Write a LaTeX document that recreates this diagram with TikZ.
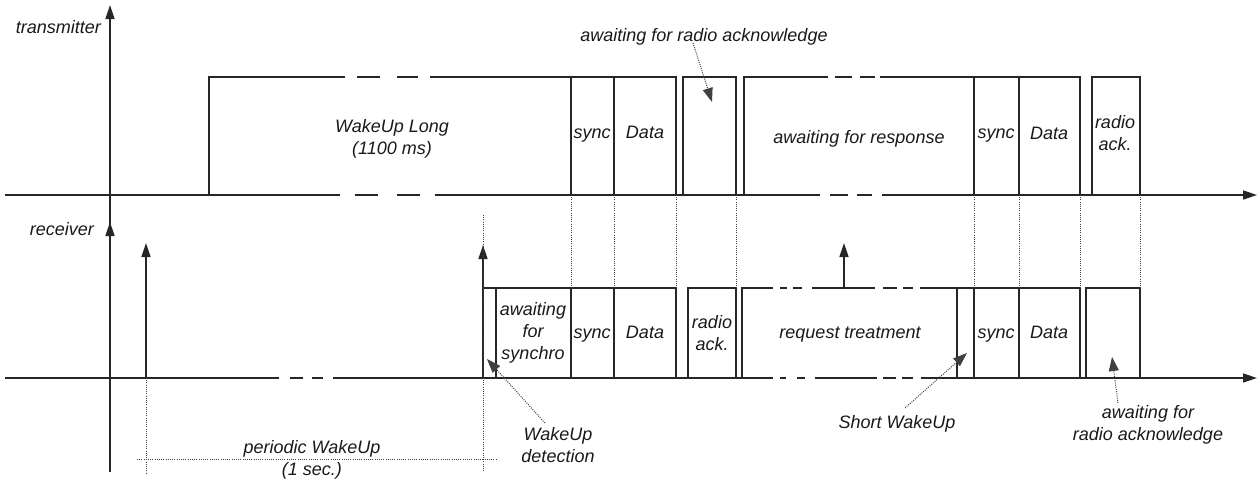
\documentclass[tikz,border=0pt]{standalone}
\usepackage{fontspec}
\setmainfont{Liberation Sans}
\usetikzlibrary{arrows.meta}
\begin{document}
\begin{tikzpicture}[x=1pt,y=-1pt,
  ln/.style={line width=1.5pt, draw=black!85, line cap=butt},
  dt/.style={line width=1pt, draw=black!75, dash pattern=on 1pt off 1.2pt},
  tipa/.style={-{Triangle[length=14pt,width=9pt]}},
  lead/.style={dt, -{Triangle[length=14pt,width=10pt]}},
  lbl/.style={font=\fontsize{18}{22}\selectfont\itshape, inner sep=0pt, anchor=base, text=black!90, align=center}]
\useasboundingbox (0,0) rectangle (1260,482);

% ---------- axes ----------
\draw[ln,tipa] (110,472) -- (110,222);
\draw[ln,tipa] (110,232) -- (110,5);
% transmitter axis
\draw[ln] (5,195) -- (340,195) (355,195) -- (378,195) (397,195) -- (420,195) (435,195) -- (820,195)
          (830,195) -- (848,195) (857,195) -- (872,195);
\draw[ln,tipa] (882,195) -- (1257,195);
% receiver axis
\draw[ln] (5,378) -- (279,378) (290,378) -- (303,378) (312,378) -- (323,378) (333,378) -- (773,378)
          (780,378) -- (786,378) (797,378) -- (805,378) (815,378) -- (877,378)
          (883,378) -- (896,378) (902,378) -- (913,378);
\draw[ln,tipa] (921,378) -- (1257,378);

% ---------- transmitter boxes ----------
\draw[ln] (209,195) -- (209,77) -- (345,77) (357,77) -- (380,77) (397,77) -- (418,77) (430,77) -- (571,77);
\draw[ln] (571,195) -- (571,77) -- (676,77) -- (676,195) (614,77) -- (614,195);
\draw[ln] (683,195) -- (683,77) -- (736,77) -- (736,195);
\draw[ln] (744,195) -- (744,77) -- (828,77) (835,77) -- (852,77) (860,77) -- (875,77) (880,77) -- (974,77);
\draw[ln] (974,195) -- (974,77) -- (1080,77) -- (1080,195) (1019,77) -- (1019,195);
\draw[ln] (1092,195) -- (1092,77) -- (1140,77) -- (1140,195);

% ---------- receiver boxes ----------
\draw[ln] (483,288) -- (676,288) -- (676,378) (496,288) -- (496,378) (571,288) -- (571,378) (614,288) -- (614,378);
\draw[ln] (688,378) -- (688,288) -- (736,288) -- (736,378);
\draw[ln] (742,378) -- (742,288) -- (773,288) (780,288) -- (787,288) (793,288) -- (802,288) (812,288) -- (875,288)
          (883,288) -- (897,288) (903,288) -- (913,288) (920,288) -- (1080,288) -- (1080,378)
          (957,288) -- (957,378) (974,288) -- (974,378) (1019,288) -- (1019,378);
\draw[ln] (1086,378) -- (1086,288) -- (1140,288) -- (1140,378);

% wake-up arrows
\draw[ln,tipa] (146,378) -- (146,243);
\draw[ln,tipa] (483,378) -- (483,245);
\draw[ln,tipa] (844,288) -- (844,243);

% ---------- dotted guides ----------
\draw[dt] (146,378) -- (146,473);
\draw[dt] (483,215) -- (483,472);
\draw[dt] (137,459) -- (497,459);
\foreach \xx in {571,614,676,736,974,1019,1080,1140} \draw[dt] (\xx,195) -- (\xx,288);

% ---------- labels ----------
\node[lbl,anchor=base east] (tx) at (101,33) {transmitter};
\node[lbl,anchor=base east] (rx) at (94,235) {receiver};
\node[lbl] (wul) at (392,154) {WakeUp Long\\(1100 ms)};
\node[lbl] (s1) at (592,138) {sync};
\node[lbl] (d1) at (645,138) {Data};
\node[lbl] (aresp) at (859,143) {awaiting for response};
\node[lbl] (s2) at (996,138) {sync};
\node[lbl] (d2) at (1049,139) {Data};
\node[lbl] (ra1) at (1115,150) {radio\\ack.};
\node[lbl] (aack) at (704,41) {awaiting for radio acknowledge};

\node[lbl] (async) at (533,359) {awaiting\\for\\synchro};
\node[lbl] (s3) at (592,338) {sync};
\node[lbl] (d3) at (645,338) {Data};
\node[lbl] (ra2) at (712,350) {radio\\ack.};
\node[lbl] (req) at (850,338) {request treatment};
\node[lbl] (s4) at (996,338) {sync};
\node[lbl] (d4) at (1049,338) {Data};

\node[lbl] (pw) at (312,475) {periodic WakeUp\\(1 sec.)};
\node[lbl] (wud) at (558,462) {WakeUp\\detection};
\node[lbl] (swu) at (897,428) {Short WakeUp};
\node[lbl] (aack2) at (1148,440) {awaiting for\\radio acknowledge};

% leader arrows
\coordinate (c1) at (693,43);  \coordinate (t1) at (712,102);
\coordinate (c2) at (545,423); \coordinate (t2) at (487,359);
\coordinate (c3) at (905,408); \coordinate (t3) at (967,353);
\coordinate (c4) at (1118,403); \coordinate (t4) at (1112,357);
\draw[lead] (c1) -- (t1);
\draw[lead] (c2) -- (t2);
\draw[lead] (c3) -- (t3);
\draw[lead] (c4) -- (t4);
\end{tikzpicture}
\end{document}
